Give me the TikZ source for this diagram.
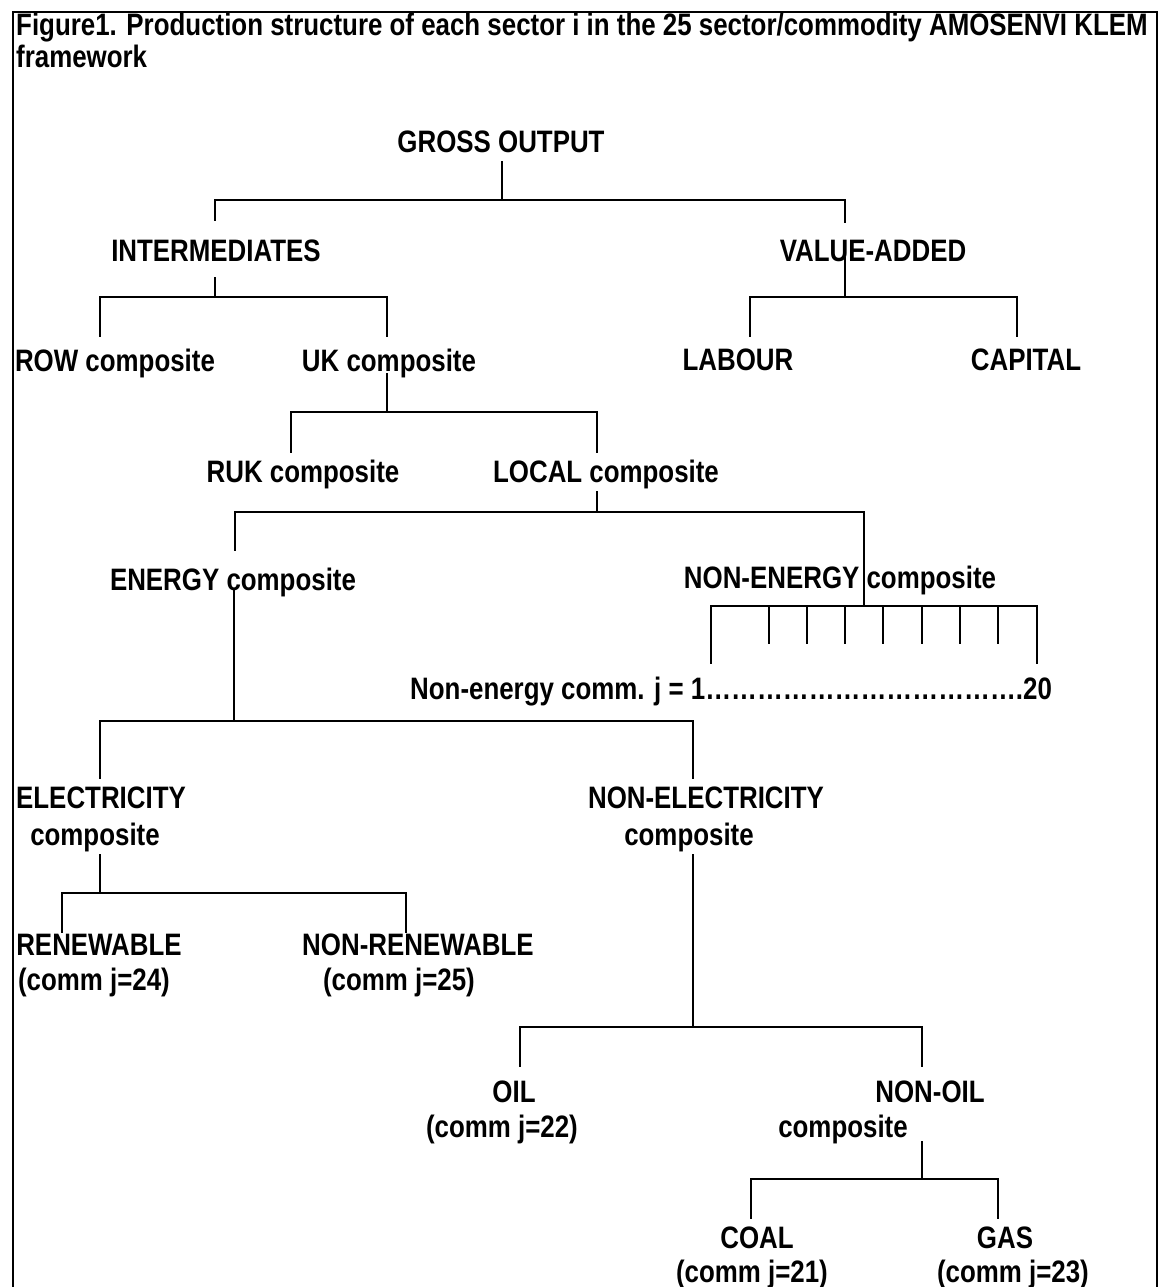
\documentclass[tikz,border=0pt]{standalone}
\usepackage{fontspec}
\setmainfont{Liberation Sans}[FakeStretch=0.835]
\begin{document}
\begin{tikzpicture}[x=1pt,y=-1pt,
  lab/.style={inner sep=0pt, anchor=base, font=\fontsize{31}{35}\selectfont\bfseries},
  ttl/.style={inner sep=0pt, anchor=base west, font=\fontsize{31}{35}\selectfont\bfseries},
  conn/.style={line width=1.8pt, line cap=rect},
  frame/.style={line width=2pt}]
\useasboundingbox (0,0) rectangle (1163,1287);
% frame
\coordinate (fbl) at (13,1300);
\coordinate (ftl) at (13,12);
\coordinate (ftr) at (1157,12);
\coordinate (fbr) at (1157,1300);
\draw[frame] (fbl) -- (ftl) -- (ftr) -- (fbr);
% title
\node[ttl] (t1) at (16,36) {Figure1. Production structure of each sector i in the 25 sector/commodity AMOSENVI KLEM};
\node[ttl] (t2) at (16,68) {framework};
% labels
\node[lab] (go) at (501,152) {GROSS OUTPUT};
\node[lab] (int) at (216,261) {INTERMEDIATES};
\node[lab] (va) at (873,261) {VALUE-ADDED};
\node[lab] (row) at (115,371) {ROW composite};
\node[lab] (uk) at (389,371) {UK composite};
\node[lab] (labour) at (738,370) {LABOUR};
\node[lab] (capital) at (1026,370) {CAPITAL};
\node[lab] (ruk) at (303,482) {RUK composite};
\node[lab] (local) at (606,482) {LOCAL composite};
\node[lab] (energy) at (233,590) {ENERGY composite};
\node[lab] (nonen) at (840,588) {NON-ENERGY composite};
\node[lab, anchor=base west] (necomm) at (410,699) {Non-energy comm. j = 1……………………………….20};
\node[lab] (elec) at (101,808) {ELECTRICITY};
\node[lab] (elec2) at (95,845) {composite};
\node[lab] (nelec) at (706,808) {NON-ELECTRICITY};
\node[lab] (nelec2) at (689,845) {composite};
\node[lab] (ren) at (99,955) {RENEWABLE};
\node[lab] (ren2) at (94,990) {(comm j=24)};
\node[lab] (nren) at (418,955) {NON-RENEWABLE};
\node[lab] (nren2) at (399,990) {(comm j=25)};
\node[lab] (oil) at (514,1102) {OIL};
\node[lab] (oil2) at (502,1137) {(comm j=22)};
\node[lab] (noil) at (930,1102) {NON-OIL};
\node[lab] (noil2) at (843,1137) {composite};
\node[lab] (coal) at (757,1248) {COAL};
\node[lab] (coal2) at (752,1282) {(comm j=21)};
\node[lab] (gas) at (1005,1248) {GAS};
\node[lab] (gas2) at (1013,1282) {(comm j=23)};
% connector points
\coordinate (goB) at (502,162);
\coordinate (goJ) at (502,200);
\coordinate (goL) at (215,200);
\coordinate (goR) at (845,200);
\coordinate (intT) at (215,220);
\coordinate (vaT) at (845,222);
\draw[conn] (goB) -- (goJ);
\draw[conn] (intT) -- (goL) -- (goR) -- (vaT);
% intermediates
\coordinate (intB) at (215,278);
\coordinate (intJ) at (215,297);
\coordinate (intL) at (100,297);
\coordinate (intR) at (387,297);
\coordinate (rowT) at (100,336);
\coordinate (ukT) at (387,336);
\draw[conn] (intB) -- (intJ);
\draw[conn] (rowT) -- (intL) -- (intR) -- (ukT);
% value added
\coordinate (vaB) at (845,258);
\coordinate (vaJ) at (845,297);
\coordinate (vaL) at (750,297);
\coordinate (vaR) at (1017,297);
\coordinate (labT) at (750,336);
\coordinate (capT) at (1017,336);
\draw[conn] (vaB) -- (vaJ);
\draw[conn] (labT) -- (vaL) -- (vaR) -- (capT);
% uk composite
\coordinate (ukB) at (387,374);
\coordinate (ukJ) at (387,412);
\coordinate (ukL) at (291,412);
\coordinate (ukR) at (597,412);
\coordinate (rukT) at (291,452);
\coordinate (locT) at (597,452);
\draw[conn] (ukB) -- (ukJ);
\draw[conn] (rukT) -- (ukL) -- (ukR) -- (locT);
% local composite
\coordinate (locB) at (597,492);
\coordinate (locJ) at (597,512);
\coordinate (locL) at (235,512);
\coordinate (locR) at (864,512);
\coordinate (enT) at (235,550);
\coordinate (neJ) at (864,606);
\draw[conn] (locB) -- (locJ);
\draw[conn] (enT) -- (locL) -- (locR) -- (neJ);
% non-energy bracket
\coordinate (neL) at (711,606);
\coordinate (neR) at (1037,606);
\coordinate (neLt) at (711,663);
\coordinate (neRt) at (1037,663);
\draw[conn] (neLt) -- (neL) -- (neR) -- (neRt);
\foreach \i/\xx in {1/769,2/807,3/845,4/883,5/922,6/960,7/998}{
  \coordinate (tk\i a) at (\xx,606);
  \coordinate (tk\i b) at (\xx,643);
  \draw[conn] (tk\i a) -- (tk\i b);
}
% energy composite
\coordinate (enB) at (234,590);
\coordinate (enJ) at (234,721);
\coordinate (enL) at (100,721);
\coordinate (enR) at (693,721);
\coordinate (elT) at (100,778);
\coordinate (nelT) at (693,778);
\draw[conn] (enB) -- (enJ);
\draw[conn] (elT) -- (enL) -- (enR) -- (nelT);
% electricity
\coordinate (elB) at (100,855);
\coordinate (elJ) at (100,893);
\coordinate (elL) at (62,893);
\coordinate (elR) at (406,893);
\coordinate (renT) at (62,932);
\coordinate (nrenT) at (406,932);
\draw[conn] (elB) -- (elJ);
\draw[conn] (renT) -- (elL) -- (elR) -- (nrenT);
% non-electricity
\coordinate (nelB) at (693,855);
\coordinate (nelJ) at (693,1027);
\coordinate (nelL) at (520,1027);
\coordinate (nelR) at (922,1027);
\coordinate (oilT) at (520,1066);
\coordinate (noilT) at (922,1066);
\draw[conn] (nelB) -- (nelJ);
\draw[conn] (oilT) -- (nelL) -- (nelR) -- (noilT);
% non-oil
\coordinate (noB) at (922,1142);
\coordinate (noJ) at (922,1179);
\coordinate (noL) at (751,1179);
\coordinate (noR) at (998,1179);
\coordinate (coalT) at (751,1218);
\coordinate (gasT) at (998,1218);
\draw[conn] (noB) -- (noJ);
\draw[conn] (coalT) -- (noL) -- (noR) -- (gasT);
\end{tikzpicture}
\end{document}
